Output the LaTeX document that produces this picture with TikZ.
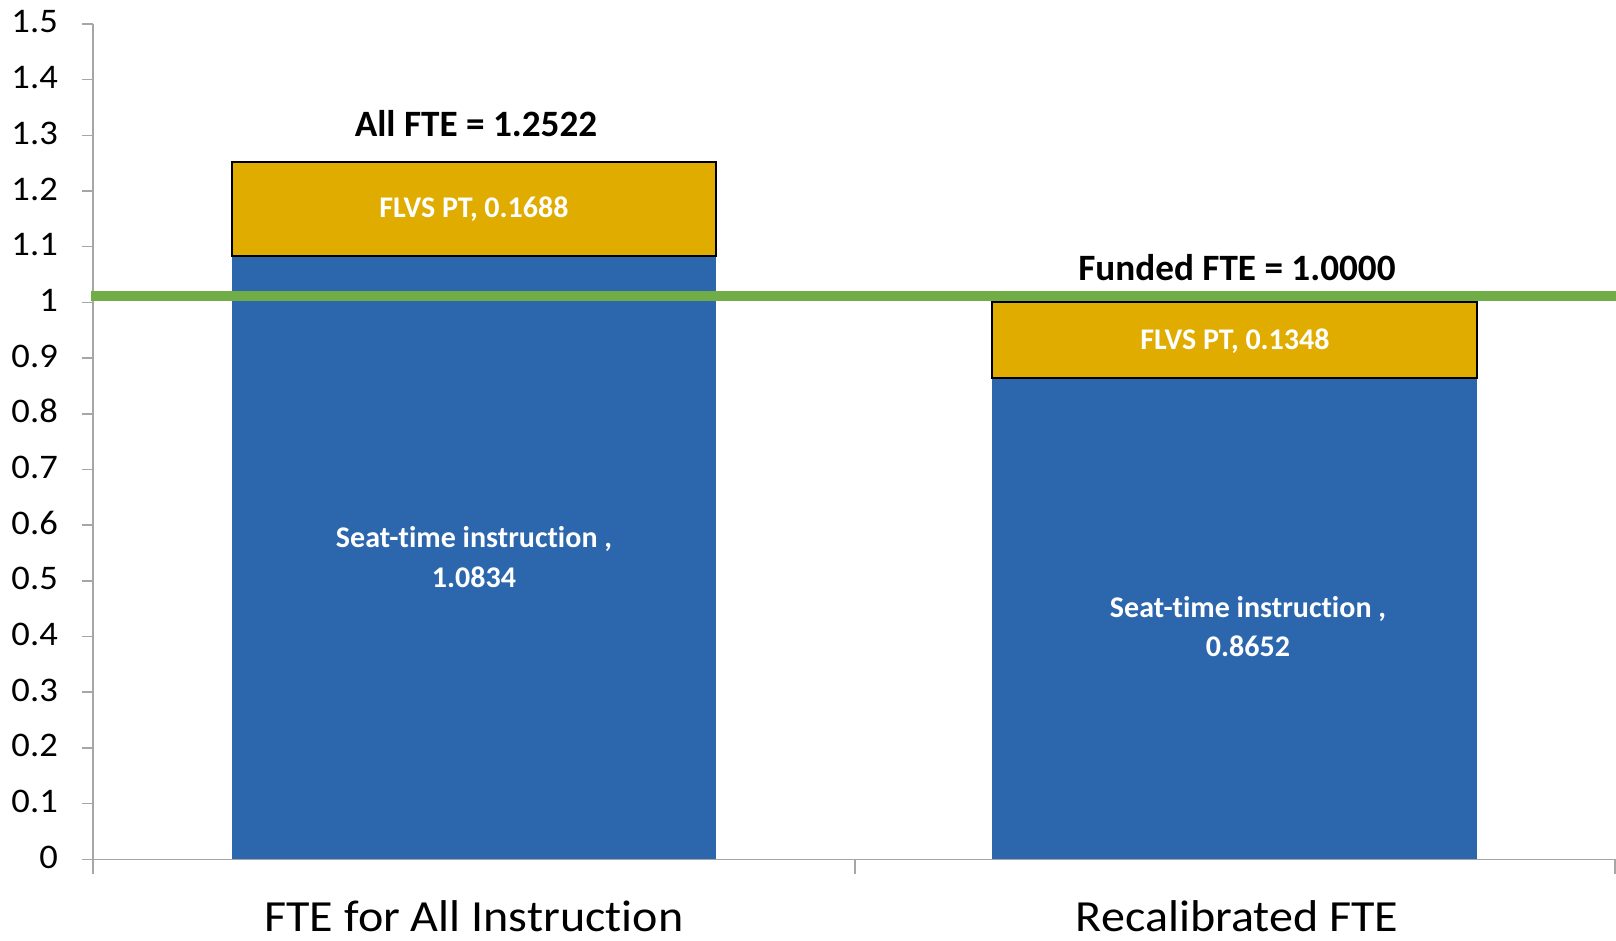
\documentclass[tikz,border=0pt]{standalone}
\usepackage{fontspec}
\setmainfont{Carlito}[Ligatures=NoCommon]
\usepackage{graphicx}
\definecolor{barblue}{RGB}{44,103,174}
\definecolor{bargold}{RGB}{224,172,0}
\definecolor{refgreen}{RGB}{112,173,71}
\definecolor{axisgray}{RGB}{166,166,166}
\tikzset{
  axisline/.style={draw=axisgray, line width=1.5pt},
  seg/.style={line width=2pt},
  ticklbl/.style={inner sep=0pt, anchor=base east, font=\fontsize{34.5}{40}\selectfont},
  catlbl/.style={inner sep=0pt, anchor=base, text depth=0pt, font=\fontsize{44.5}{52}\selectfont},
  totlbl/.style={inner sep=0pt, anchor=base, font=\fontsize{37.2}{44}\selectfont\bfseries},
  inlbl/.style={inner sep=0pt, anchor=base, text=white, font=\fontsize{30}{39.5}\selectfont\bfseries, align=center}
}
\begin{document}
\begin{tikzpicture}[x=1pt,y=-1pt]
\useasboundingbox (0,0) rectangle (1616,940);
\fill[white] (0,0) rectangle (1616,940);
% bars
\fill[barblue] (232,256) rectangle (716,859);
\filldraw[fill=bargold, draw=black, seg] (232,162) rectangle (716,256);
\fill[barblue] (992,377.5) rectangle (1477,859);
\filldraw[fill=bargold, draw=black, seg] (992,302.4) rectangle (1477,377.5);
% axes
\draw[axisline] (93,24) -- (93,874);
\draw[axisline] (82,859.3) -- (1616,859.3);
\foreach \k in {1,...,15} \draw[axisline] (82,{859.3-55.69*\k}) -- (93,{859.3-55.69*\k});
\draw[axisline] (855,859.3) -- (855,874);
\draw[axisline] (1615,859.3) -- (1615,874);
% reference line
\draw[refgreen, line width=10pt] (91,296) -- (1616,296);
% tick labels
\foreach \k/\t in {0/0,1/0.1,2/0.2,3/0.3,4/0.4,5/0.5,6/0.6,7/0.7,8/0.8,9/0.9,10/1,11/1.1,12/1.2,13/1.3,14/1.4,15/1.5}
  \node[ticklbl] (tick\k) at (58,{859.3-55.69*\k+9}) {\scalebox{1.06}[1]{\t}};
% category labels
\node[catlbl] (cat1) at (474,931) {\scalebox{1.08}[1]{FTE for All Instruction}};
\node[catlbl] (cat2) at (1237,931) {\scalebox{1.08}[1]{Recalibrated FTE}};
% totals
\node[totlbl] (tot1) at (476,136) {All FTE = 1.2522};
\node[totlbl] (tot2) at (1237,280) {Funded FTE = 1.0000};
% segment labels
\node[inlbl] (flvs1) at (474,217.5) {FLVS PT, 0.1688};
\node[inlbl] (flvs2) at (1235,349) {FLVS PT, 0.1348};
\node[inlbl] (seat1) at (474,587) {Seat-time instruction ,\\1.0834};
\node[inlbl] (seat2) at (1248,656.5) {Seat-time instruction ,\\0.8652};
\end{tikzpicture}
\end{document}
